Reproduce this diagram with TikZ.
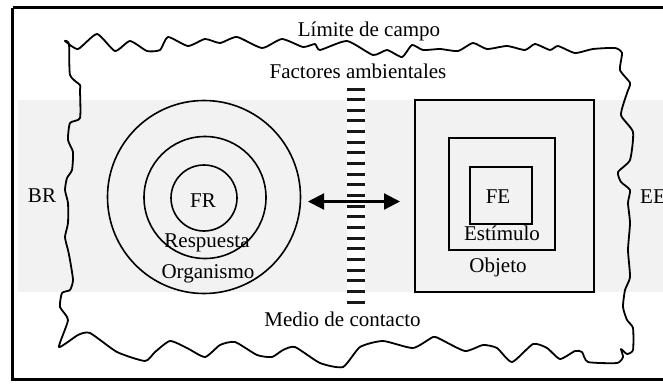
\documentclass[tikz,border=0pt]{standalone}
\usepackage{fontspec}
\setmainfont{Liberation Serif}
\usetikzlibrary{arrows.meta}
\definecolor{bandgrey}{HTML}{F2F2F2}
\tikzset{
  lbl/.style={inner sep=0pt, anchor=base, font=\fontsize{21}{25}\selectfont},
  ring/.style={circle, draw, line width=1.6pt, inner sep=0pt},
  sq/.style={rectangle, draw, line width=1.6pt, inner sep=0pt},
  wave/.style={line width=1.8pt, line join=round},
  stripe/.style={line width=3pt, black!90},
  dblarrow/.style={line width=2.2pt, {Triangle[length=16pt,width=16pt]}-{Triangle[length=16pt,width=16pt]}}
}
\begin{document}
\begin{tikzpicture}[x=1pt,y=-1pt]
\useasboundingbox (0,0) rectangle (663,383);
% frame
\draw[line width=3pt] (12.5,7.5) -- (680,7.5) (12.5,7.5) -- (12.5,379) -- (680,379);
% band
\fill[bandgrey] (18,100) rectangle (663,292);
% field boundary
\draw[wave] plot[smooth cycle, tension=0.35] coordinates {
(65,41) (78,49) (97,34) (115,51) (130,41) (147,51) (160,50) (168,37) (188,46) (205,39) (220,43) (237,37) (262,48) (282,39) (303,47) (315,44) (320,50) (347,41) (373,55) (387,50) (402,57) (412,45) (423,50) (440,49) (458,51) (473,43) (487,49) (507,46) (525,50) (535,44) (550,50) (558,46) (575,53) (593,49) (615,48) (622,53)
(620,70) (630,83) (627,93) (621,115) (633,132) (630,160) (618,172) (621,182) (630,190) (628,203) (630,223) (628,250) (630,277) (625,290) (623,307) (627,320) (633,328) (633,350) (627,354) (621,349) (623,357) (617,363)
(588,362) (582,352) (575,351) (560,359) (547,348) (533,344) (512,362) (497,348) (483,345) (465,351) (440,339) (433,337) (413,348) (383,341) (360,347) (343,367) (320,363) (295,347) (283,350) (272,357) (257,355) (235,342) (220,345) (205,357) (187,348) (170,341) (155,352) (145,361) (117,352) (90,333) (78,335) (59,347)
(68,320) (60,307) (62,293) (70,290) (73,280) (70,260) (68,250) (65,237) (68,223) (68,203) (65,190) (67,178) (72,170) (73,152) (68,140) (70,123) (80,118) (80,90) (80,85) (70,75) (69,44)};
% organism circles
\node[ring, minimum size=193pt] (org) at (204,197) {};
\node[ring, minimum size=122pt] (resp) at (205,197.5) {};
\node[ring, minimum size=66pt] (fr) at (204,198) {};
% object squares
\node[sq, minimum width=179pt, minimum height=192pt] (obj) at (504.5,196) {};
\node[sq, minimum width=106pt, minimum height=112pt] (est) at (502,194) {};
\node[sq, minimum width=62pt, minimum height=57pt] (fe) at (501,195.5) {};
% contact medium
\node[fill=white, inner sep=0pt, minimum width=18pt, minimum height=216pt] (medio) at (356,195) {};
\foreach \k in {0,...,20} {
  \draw[stripe] (347,89+\k*10.65) -- (365,89+\k*10.65);
}
% arrow
\coordinate (al) at (308,201.5);
\coordinate (ar) at (400,201.5);
\draw[dblarrow] (al) -- (ar);
% labels
\node[lbl] (limite) at (369,36) {Límite de campo};
\node[lbl] (factores) at (358,78) {Factores ambientales};
\node[lbl] (mediolbl) at (342.5,326) {Medio de contacto};
\node[lbl] (br) at (42,202) {BR};
\node[lbl, anchor=base west] (ee) at (640,203) {EE};
\node[lbl] (frl) at (203,207) {FR};
\node[lbl] (respl) at (207,247) {Respuesta};
\node[lbl] (orgl) at (208,278) {Organismo};
\node[lbl] (fel) at (498,203) {FE};
\node[lbl] (estl) at (502,240) {Estímulo};
\node[lbl] (objl) at (498,272) {Objeto};
\end{tikzpicture}
\end{document}
